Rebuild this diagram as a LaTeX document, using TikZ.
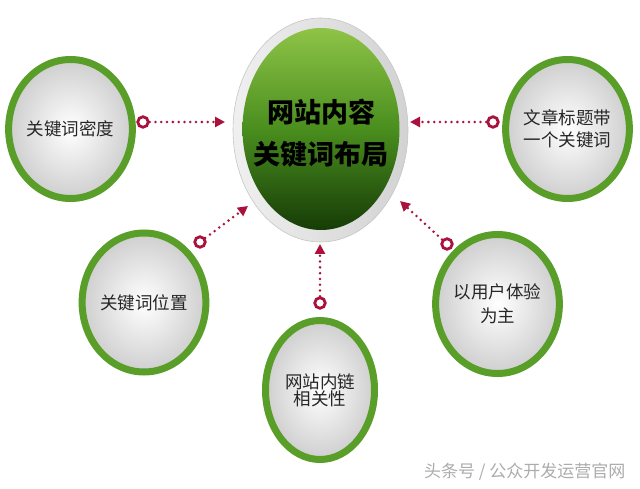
\documentclass[tikz,border=0pt]{standalone}
\usepackage{fontspec}
\newfontfamily\cjk{Noto Sans CJK SC}
\usetikzlibrary{shapes.geometric,arrows.meta}
\definecolor{ringgreen}{HTML}{5A9E2A}
\definecolor{lightgreen}{HTML}{8EC447}
\definecolor{midgreen}{HTML}{4A8E1E}
\definecolor{darkgreen}{HTML}{163C07}
\definecolor{markred}{HTML}{A8123C}
\tikzset{
  smallball/.style={ellipse, draw=ringgreen, line width=7pt,
    minimum width=109pt, minimum height=139pt, inner sep=0pt,
    inner color=white, outer color=gray!38,
    font=\cjk\fontsize{17.5}{22}\selectfont, align=center, text=black!85},
  marker/.style={circle, draw=markred, line width=2.8pt, minimum size=10.5pt, inner sep=0pt, fill=white},
  conn/.style={draw=markred, line width=2.8pt, line cap=round,
    dash pattern=on 0pt off 5.8pt, -{Triangle[length=10pt,width=10pt]}},
}
\begin{document}
\begin{tikzpicture}[x=1pt,y=-1pt]
\useasboundingbox (0,0) rectangle (640,489);
\fill[white] (0,0) rectangle (640,489);
% centre
\node[ellipse, minimum width=175pt, minimum height=224pt, inner sep=0pt,
  left color=gray!12, right color=gray!35, draw=gray!45, line width=0.6pt] (rim) at (320.5,130) {};
\node[ellipse, minimum width=157pt, minimum height=202pt, inner sep=0pt,
  top color=lightgreen, bottom color=darkgreen, middle color=midgreen] (core) at (321,129) {};
\node[font=\cjk\bfseries\fontsize{27}{42}\selectfont, align=center, text=black] (title) at (321,133) {网站内容\\关键词布局};
% satellites
\node[smallball] (a) at (70.5,129) {关键词密度};
\node[smallball] (b) at (567.5,129) {文章标题带\\一个关键词};
\node[smallball] (c) at (144,302.5) {关键词位置};
\node[smallball, font=\cjk\fontsize{17.5}{17}\selectfont] (d) at (320,390) {网站内链\\相关性};
\node[smallball, font=\cjk\fontsize{17.5}{24}\selectfont] (e) at (497.5,304) {以用户体验\\为主};
% markers
\node[marker] (m1) at (143,122) {};
\node[marker] (m2) at (493,122) {};
\node[marker] (m3) at (200,242) {};
\node[marker] (m4) at (320,303) {};
\node[marker] (m5) at (447,244) {};
\coordinate (t1) at (225,122);
\coordinate (t2) at (410,122);
\coordinate (t3) at (248,206);
\coordinate (t4) at (320,244);
\coordinate (t5) at (400,201);
\draw[conn] (m1) -- (t1);
\draw[conn] (m2) -- (t2);
\draw[conn] (m3) -- (t3);
\draw[conn] (m4) -- (t4);
\draw[conn] (m5) -- (t5);
% watermark
\node[font=\cjk\fontsize{17}{17}\selectfont, text=gray!65, anchor=east] (wm) at (629,472) {头条号 / 公众开发运营官网};
\end{tikzpicture}
\end{document}
